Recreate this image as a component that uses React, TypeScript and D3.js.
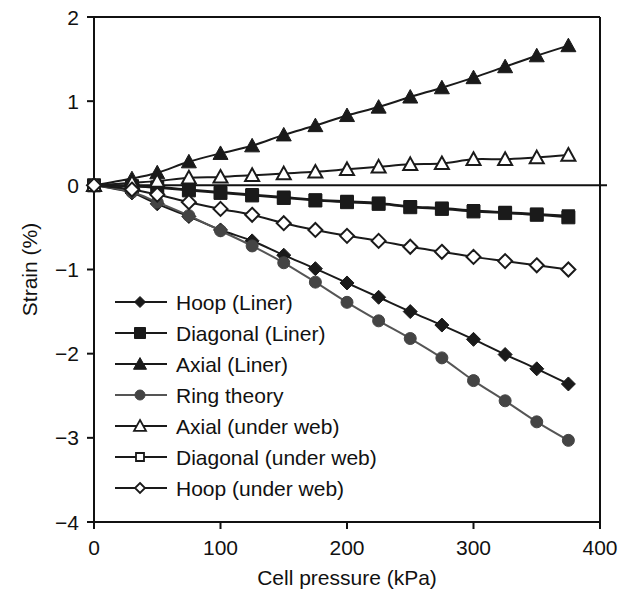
import React from "react";
import * as d3 from "d3";

const pressure = [0, 30, 50, 75, 100, 125, 150, 175, 200, 225, 250, 275, 300, 325, 350, 375];
const hoopLiner = [0, -0.09, -0.22, -0.37, -0.53, -0.66, -0.83, -0.99, -1.16, -1.33, -1.5, -1.66, -1.83, -2.01, -2.18, -2.36];
const diagLiner = [0, -0.01, -0.03, -0.06, -0.09, -0.12, -0.15, -0.18, -0.2, -0.22, -0.26, -0.28, -0.31, -0.33, -0.35, -0.38];
const axialLiner = [0, 0.08, 0.15, 0.28, 0.38, 0.47, 0.6, 0.71, 0.83, 0.93, 1.05, 1.16, 1.28, 1.41, 1.54, 1.66];
const ringTheory = [0, -0.08, -0.2, -0.36, -0.54, -0.72, -0.92, -1.15, -1.39, -1.61, -1.82, -2.05, -2.32, -2.56, -2.81, -3.03];
const axialWeb = [0, 0.03, 0.05, 0.09, 0.1, 0.12, 0.14, 0.16, 0.19, 0.22, 0.25, 0.26, 0.31, 0.31, 0.33, 0.36];
const diagWeb = [0, -0.01, -0.02, -0.05, -0.08, -0.11, -0.14, -0.17, -0.19, -0.21, -0.25, -0.27, -0.3, -0.32, -0.34, -0.36];
const hoopWeb = [0, -0.05, -0.11, -0.2, -0.28, -0.35, -0.45, -0.53, -0.6, -0.66, -0.73, -0.79, -0.85, -0.9, -0.95, -1.0];

const seriesNames = [
  "Hoop (Liner)",
  "Diagonal (Liner)",
  "Axial (Liner)",
  "Ring theory",
  "Axial (under web)",
  "Diagonal (under web)",
  "Hoop (under web)",
];
const xTicks = [0, 100, 200, 300, 400];
const yTicks = [2, 1, 0, -1, -2, -3, -4];

type Marker = "diamond" | "square" | "triangle" | "circle";

const series = [
  { name: seriesNames[0], values: hoopLiner, marker: "diamond" as Marker, filled: true, color: "#1a1a1a", mfill: "#1a1a1a", size: 14, lsize: 11 },
  { name: seriesNames[1], values: diagLiner, marker: "square" as Marker, filled: true, color: "#1a1a1a", mfill: "#1a1a1a", size: 13, lsize: 11 },
  { name: seriesNames[2], values: axialLiner, marker: "triangle" as Marker, filled: true, color: "#1a1a1a", mfill: "#1a1a1a", size: 15, lsize: 13 },
  { name: seriesNames[3], values: ringTheory, marker: "circle" as Marker, filled: true, color: "#555555", mfill: "#444444", size: 12, lsize: 10 },
  { name: seriesNames[4], values: axialWeb, marker: "triangle" as Marker, filled: false, color: "#1a1a1a", mfill: "#ffffff", size: 14, lsize: 12 },
  { name: seriesNames[5], values: diagWeb, marker: "square" as Marker, filled: false, color: "#1a1a1a", mfill: "#ffffff", size: 11, lsize: 8 },
  { name: seriesNames[6], values: hoopWeb, marker: "diamond" as Marker, filled: false, color: "#1a1a1a", mfill: "#ffffff", size: 14, lsize: 10 },
];

function markerPath(type: Marker, w: number): string {
  const h = w / 2;
  if (type === "square") return `M${-h},${-h}H${h}V${h}H${-h}Z`;
  if (type === "diamond") return `M0,${-h}L${h},0L0,${h}L${-h},0Z`;
  if (type === "triangle") {
    const th = w * 0.9;
    return `M0,${-th * 0.55}L${h},${th * 0.45}L${-h},${th * 0.45}Z`;
  }
  const p = d3.path();
  p.arc(0, 0, h, 0, Math.PI * 2);
  p.closePath();
  return p.toString();
}

const FONT = "'Liberation Sans', Arial, Helvetica, sans-serif";
const FS = 21;

export default function App() {
  const width = 630;
  const height = 598;
  const x = d3.scaleLinear().domain([0, 400]).range([94, 600]);
  const y = d3.scaleLinear().domain([-4, 2]).range([522, 17]);
  const line = d3
    .line<[number, number]>()
    .x((d) => x(d[0]))
    .y((d) => y(d[1]))
    .curve(d3.curveCatmullRom.alpha(0.5));

  // draw order: diagonal under web first so filled squares stay on top
  const drawOrder = [5, 0, 1, 2, 3, 4, 6];

  const legendX0 = 115;
  const legendX1 = 167;
  const legendY0 = 302;
  const legendDy = 31;

  return (
    <svg
      width={width}
      height={height}
      style={{ position: "absolute", left: 0, top: 0, background: "#fff" }}
      fontFamily={FONT}
    >
      <rect x={0} y={0} width={width} height={height} fill="#fff" />
      {/* frame */}
      <line x1={x(0)} x2={x(400)} y1={y(2)} y2={y(2)} stroke="#111" strokeWidth={2} />
      <line x1={x(400)} x2={x(400)} y1={y(2)} y2={y(-4)} stroke="#111" strokeWidth={2} />
      {/* zero line */}
      <line x1={x(0)} x2={x(400) + 7} y1={y(0)} y2={y(0)} stroke="#111" strokeWidth={2} />
      {/* y axis */}
      <line x1={x(0)} x2={x(0)} y1={y(2) - 1} y2={y(-4) + 1} stroke="#111" strokeWidth={2} />
      {yTicks.map((t) => (
        <g key={"yt" + t}>
          <line x1={x(0) - 7} x2={x(0)} y1={y(t)} y2={y(t)} stroke="#111" strokeWidth={2} />
          <text x={79} y={y(t)} dy="0.36em" textAnchor="end" fontSize={FS} fill="#111">
            {t < 0 ? "\u2212" + Math.abs(t) : String(t)}
          </text>
        </g>
      ))}
      {/* x axis */}
      <line x1={x(0) - 1} x2={x(400) + 1} y1={y(-4)} y2={y(-4)} stroke="#111" strokeWidth={2} />
      {xTicks.map((t) => (
        <g key={"xt" + t}>
          <line x1={x(t)} x2={x(t)} y1={y(-4)} y2={y(-4) + 7} stroke="#111" strokeWidth={2} />
          <text x={x(t)} y={555} textAnchor="middle" fontSize={FS} fill="#111">
            {String(t)}
          </text>
        </g>
      ))}
      <text x={(x(0) + x(400)) / 2} y={585} textAnchor="middle" fontSize={FS} fill="#111">
        Cell pressure (kPa)
      </text>
      <text
        transform={`translate(37,${(y(2) + y(-4)) / 2}) rotate(-90)`}
        textAnchor="middle"
        fontSize={FS}
        fill="#111"
      >
        Strain (%)
      </text>

      {/* series */}
      {drawOrder.map((i) => {
        const s = series[i];
        const pts = pressure.map((p, k) => [p, s.values[k]] as [number, number]);
        return (
          <g key={"s" + i}>
            <path d={line(pts) || ""} fill="none" stroke={s.color} strokeWidth={2} />
            {pts.map((d, k) => (
              <path
                key={k}
                d={markerPath(s.marker, s.size)}
                transform={`translate(${x(d[0])},${y(d[1])})`}
                fill={s.mfill}
                stroke={s.filled ? s.mfill : s.color}
                strokeWidth={s.filled ? 1 : 2}
              />
            ))}
          </g>
        );
      })}

      {/* legend */}
      {series.map((s, i) => {
        const ly = legendY0 + i * legendDy;
        const mx = (legendX0 + legendX1) / 2 - 1;
        return (
          <g key={"lg" + i}>
            <line x1={legendX0} x2={legendX1} y1={ly} y2={ly} stroke={s.color} strokeWidth={2} />
            <path
              d={markerPath(s.marker, s.lsize)}
              transform={`translate(${mx},${ly})`}
              fill={s.mfill}
              stroke={s.filled ? s.mfill : s.color}
              strokeWidth={s.filled ? 1 : 1.8}
            />
            <text x={176} y={ly} dy="0.36em" fontSize={FS} fill="#111">
              {s.name}
            </text>
          </g>
        );
      })}
    </svg>
  );
}
